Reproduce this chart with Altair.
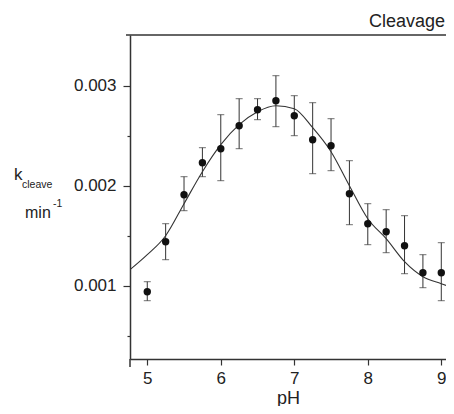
import altair as alt
import pandas as pd

# measured points
ph = [5.0, 5.25, 5.5, 5.75, 6.0, 6.25, 6.5, 6.75, 7.0, 7.25, 7.5, 7.75, 8.0, 8.25, 8.5, 8.75, 9.0]
k_obs = [0.00094, 0.00144, 0.00191, 0.00223, 0.00237, 0.00260, 0.00276, 0.00285, 0.00270,
         0.00246, 0.00240, 0.00192, 0.00162, 0.00154, 0.00140, 0.00113, 0.00113]
k_lo = [0.00085, 0.00126, 0.00175, 0.00209, 0.00205, 0.00237, 0.00266, 0.00259, 0.00250,
        0.00212, 0.00215, 0.00161, 0.00141, 0.00133, 0.00112, 0.00098, 0.00085]
k_hi = [0.00104, 0.00162, 0.00209, 0.00238, 0.00271, 0.00287, 0.00287, 0.00310, 0.00290,
        0.00283, 0.00267, 0.00225, 0.00182, 0.00176, 0.00170, 0.00131, 0.00143]

# fitted curve
fit_ph = [4.765, 5.0, 5.25, 5.5, 5.75, 6.0, 6.25, 6.5, 6.75, 7.0, 7.25, 7.5, 7.75, 8.0,
          8.25, 8.5, 8.75, 9.0, 9.15]
fit_k = [0.00116, 0.00131, 0.00150, 0.00182, 0.00214, 0.00241, 0.00261, 0.00274, 0.00280,
         0.00277, 0.00258, 0.00234, 0.00200, 0.00167, 0.00147, 0.00124, 0.00109, 0.00102,
         0.00098]

x_ticks = [5, 6, 7, 8, 9]
y_ticks = [0.0005, 0.001, 0.0015, 0.002, 0.0025, 0.003]

W, H = 316, 324
FONT = "Liberation Sans"
INK = "#222222"

obs = pd.DataFrame({"pH": ph, "k": k_obs, "lo": k_lo, "hi": k_hi})
fit = pd.DataFrame({"pH": fit_ph, "k": fit_k})

xs = alt.Scale(domain=[4.765, 9.064], nice=False, zero=False)
ys = alt.Scale(domain=[0.000267, 0.003507], nice=False, zero=False)

major = "abs(datum.value*1000 - round(datum.value*1000)) < 0.01"

x_axis = alt.Axis(values=x_ticks, title="pH", format="d", labelFontSize=17, titleFontSize=18,
                  titleFontWeight="normal", labelFont=FONT, titleFont=FONT, tickSize=6,
                  labelPadding=5, titlePadding=3, grid=False, labelColor=INK, titleColor=INK)
y_axis = alt.Axis(values=y_ticks, title=None, labelFontSize=17, labelFont=FONT,
                  labelExpr=f"({major}) ? format(datum.value, '.3f') : ''",
                  tickSize={"condition": {"test": major, "value": 7}, "value": 3},
                  labelPadding=7, grid=False, labelColor=INK)

base = alt.Chart(obs)

line = alt.Chart(fit).mark_line(color="#333333", strokeWidth=1.1, interpolate="monotone",
                                clip=True).encode(
    x=alt.X("pH:Q", scale=xs, axis=x_axis),
    y=alt.Y("k:Q", scale=ys, axis=y_axis),
)

EB = "#333333"
bars = base.mark_rule(color=EB, strokeWidth=1).encode(
    x=alt.X("pH:Q", scale=xs), y=alt.Y("lo:Q", scale=ys), y2="hi:Q"
)
cap_lo = base.mark_tick(color=EB, orient="horizontal", size=7, thickness=1).encode(
    x=alt.X("pH:Q", scale=xs), y=alt.Y("lo:Q", scale=ys)
)
cap_hi = base.mark_tick(color=EB, orient="horizontal", size=7, thickness=1).encode(
    x=alt.X("pH:Q", scale=xs), y=alt.Y("hi:Q", scale=ys)
)
pts = base.mark_circle(color="#111111", size=55, opacity=1).encode(
    x=alt.X("pH:Q", scale=xs), y=alt.Y("k:Q", scale=ys)
)

one = pd.DataFrame({"a": [0]})
top_rule = alt.Chart(one).mark_rule(color="#333333", strokeWidth=1.6).encode(
    x=alt.value(-4), x2=alt.value(W), y=alt.value(0)
)
left_ext = alt.Chart(one).mark_rule(color="#333333", strokeWidth=1.5).encode(
    x=alt.value(0), y=alt.value(H), y2=alt.value(H + 8)
)

def txt(s, x, y, size, align="left"):
    return alt.Chart(one).mark_text(text=s, align=align, baseline="alphabetic",
                                    font=FONT, fontSize=size, color=INK).encode(
        x=alt.value(x), y=alt.value(y))

labels = (txt("k", -116, 145, 17) + txt("cleave", -108, 153, 10.5)
          + txt("min", -105, 183, 16) + txt("-1", -77, 172, 10.5))
title = txt("Cleavage", W - 1, -8, 18, align="right")

chart = alt.layer(line, bars, cap_lo, cap_hi, pts, top_rule, left_ext, labels, title).properties(
    width=W, height=H,
    autosize=alt.AutoSizeParams(type="none"),
    padding={"left": 122, "top": 27, "right": 0, "bottom": 47},
).configure_view(stroke=None).configure_axis(
    domainColor="#333333", domainWidth=1.5, tickColor="#333333", tickWidth=1.2
)

chart.save("out.html", embed_options={"renderer": "svg", "actions": False})
